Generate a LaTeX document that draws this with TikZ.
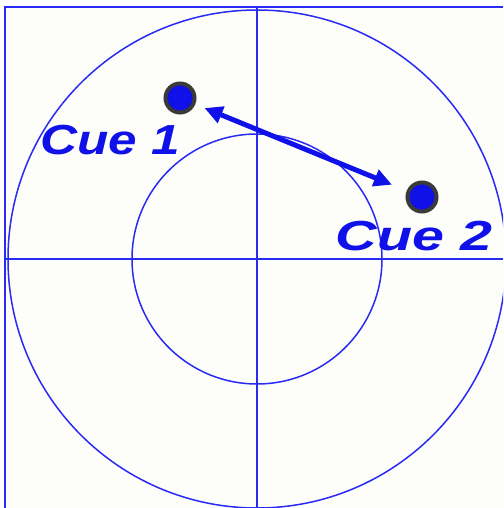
\documentclass[tikz,border=0pt]{standalone}
\usepackage{fontspec}
\setmainfont{Liberation Sans}
\usetikzlibrary{arrows.meta,positioning}
\definecolor{gridblue}{HTML}{2A2AF5}
\definecolor{cueblue}{HTML}{1010E8}
\definecolor{ringgray}{HTML}{3A3A3A}
\definecolor{paper}{HTML}{FDFDF9}
\tikzset{
  ring/.style={draw=gridblue, line width=1.5pt},
  axis/.style={draw=gridblue, line width=1.9pt},
  cue/.style={circle, fill=cueblue, draw=ringgray, line width=4pt, minimum size=29pt, inner sep=0pt},
  cuelbl/.style={font=\fontsize{42}{42}\selectfont\bfseries\itshape, text=cueblue, xscale=1.22, inner sep=0pt},
  ar/.style={{Triangle[length=18pt,width=17pt]}-{Triangle[length=18pt,width=17pt]}, line width=5pt, draw=cueblue},
}
\begin{document}
\begin{tikzpicture}[x=1pt,y=-1pt]
  \useasboundingbox (0,0) rectangle (503,508);
  \fill[white] (0,0) rectangle (503,508);
  \fill[paper] (5,7) rectangle (503,508);
  \clip (0,0) rectangle (503,508);
  % frame
  \draw[axis, line width=1.2pt] (5,508) -- (5,7) -- (503,7);
  % target rings
  \coordinate (mid) at (257,259);
  \draw[ring] (mid) circle[radius=249];
  \draw[ring] (mid) circle[radius=125];
  \draw[axis] (257,7) -- (257,508);
  \draw[axis] (5,259) -- (503,259);
  % cues
  \node[cue] (c1) at (180,98) {};
  \node[cue] (c2) at (422,197) {};
  \node[cuelbl] (lbl1) at (110,140) {Cue 1};
  \node[cuelbl, xscale=1.12] (lbl2) at (414,236) {Cue 2};
  \draw[ar, shorten <=10pt, shorten >=16pt] (c1) -- (c2);
\end{tikzpicture}
\end{document}
